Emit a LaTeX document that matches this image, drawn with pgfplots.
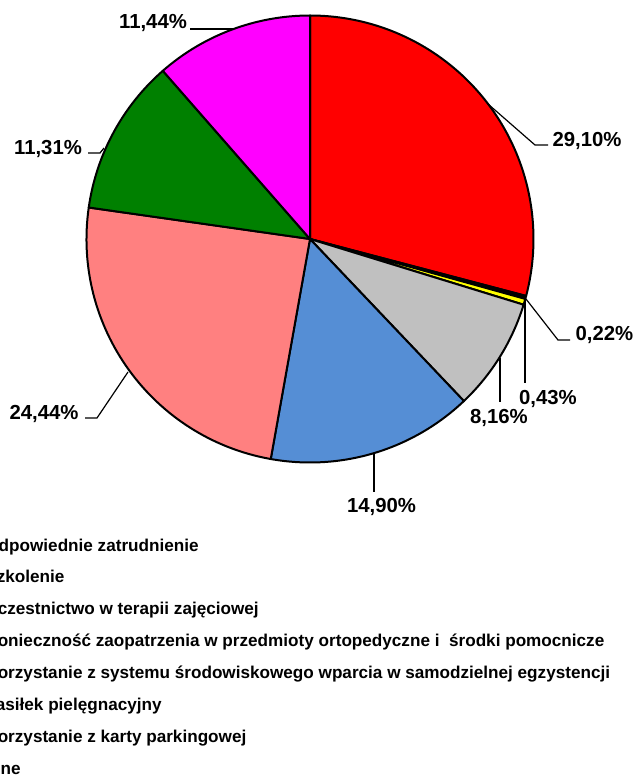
\documentclass[border=0pt]{standalone}
\usepackage{fontspec}
\setmainfont{Liberation Sans}
\usepackage{pgfplots}
\pgfplotsset{compat=1.18}
\definecolor{pblue}{HTML}{558ED5}
\definecolor{psalmon}{HTML}{FF8080}
\definecolor{pgray}{HTML}{C0C0C0}
\definecolor{pgreen}{HTML}{008000}
\definecolor{pred}{HTML}{FF0000}
\definecolor{pyellow}{HTML}{FFFF00}
\definecolor{pmagenta}{HTML}{FF00FF}
\begin{document}
\begin{tikzpicture}
\begin{axis}[
  x=1bp, y=1bp, y dir=reverse,
  xmin=0, xmax=638, ymin=0, ymax=783,
  hide axis, clip=false,
  anchor=north west, at={(0bp,783bp)},
  legend cell align=left,
  legend style={at={(axis cs:-32,539)}, anchor=north west, draw=none, fill=none,
    inner sep=0pt, outer sep=0pt,
    font=\bfseries\fontsize{17.2}{20}\selectfont,
    row sep=15.9bp,
    nodes={inner sep=0pt, text height=12bp, text depth=4bp}},
]
\pgfplotsextra{
  \foreach \v/\c [remember=\e as \s (initially 90), evaluate=\v as \e using \s-3.6*\v] in
    {29.10/pred, 0.22/black, 0.43/pyellow, 8.16/pgray, 14.90/pblue, 24.44/psalmon, 11.31/pgreen, 11.44/pmagenta}{
    \filldraw[fill=\c, draw=black, line width=2bp, line join=round]
      (axis cs:310,239) -- (axis cs:{310+223.5*cos(\s)},{239-223.5*sin(\s)})
      arc[start angle=\s, end angle=\e, radius=223.5bp] -- cycle;
  }
}
\addlegendimage{area legend, fill=pred, draw=black}
\addlegendentry{Odpowiednie zatrudnienie}
\addlegendimage{area legend, fill=black, draw=black}
\addlegendentry{Szkolenie}
\addlegendimage{area legend, fill=pyellow, draw=black}
\addlegendentry{Uczestnictwo w terapii zajęciowej}
\addlegendimage{area legend, fill=pgray, draw=black}
\addlegendentry{Konieczność zaopatrzenia w przedmioty ortopedyczne i \ środki pomocnicze}
\addlegendimage{area legend, fill=pblue, draw=black}
\addlegendentry{Korzystanie z systemu środowiskowego wparcia w samodzielnej egzystencji}
\addlegendimage{area legend, fill=psalmon, draw=black}
\addlegendentry{Zasiłek pielęgnacyjny}
\addlegendimage{area legend, fill=pgreen, draw=black}
\addlegendentry{Korzystanie z karty parkingowej}
\addlegendimage{area legend, fill=pmagenta, draw=black}
\addlegendentry{Inne}
% leader lines
\draw[line width=1.2bp] (axis cs:488,104) -- (axis cs:535,145) -- (axis cs:548,145);
\draw[line width=1.2bp] (axis cs:526,299) -- (axis cs:558,340) -- (axis cs:570,340);
\draw[line width=1.2bp] (axis cs:525,300) -- (axis cs:525,383);
\draw[line width=1.2bp] (axis cs:500,358) -- (axis cs:500,402);
\draw[line width=1.2bp] (axis cs:374,453) -- (axis cs:374,492);
\draw[line width=1.2bp] (axis cs:128,372) -- (axis cs:97,418) -- (axis cs:85,418);
\draw[line width=1.2bp] (axis cs:104,148) -- (axis cs:100,153) -- (axis cs:88,153);
\draw[line width=1.2bp] (axis cs:190,29) -- (axis cs:233,29);
% labels
\begin{scope}[every node/.style={font=\bfseries\fontsize{20.4}{24}\selectfont, inner sep=0pt, anchor=base}]
\node at (axis cs:587,147) {29,10\%};
\node at (axis cs:604.5,340) {0,22\%};
\node at (axis cs:548,404) {0,43\%};
\node at (axis cs:499,423) {8,16\%};
\node at (axis cs:381.5,512) {14,90\%};
\node at (axis cs:44,419) {24,44\%};
\node at (axis cs:48,155) {11,31\%};
\node at (axis cs:153,29) {11,44\%};
\end{scope}
\end{axis}
\pgfresetboundingbox
\useasboundingbox (0bp,0bp) rectangle (638bp,783bp);
\end{tikzpicture}
\end{document}
